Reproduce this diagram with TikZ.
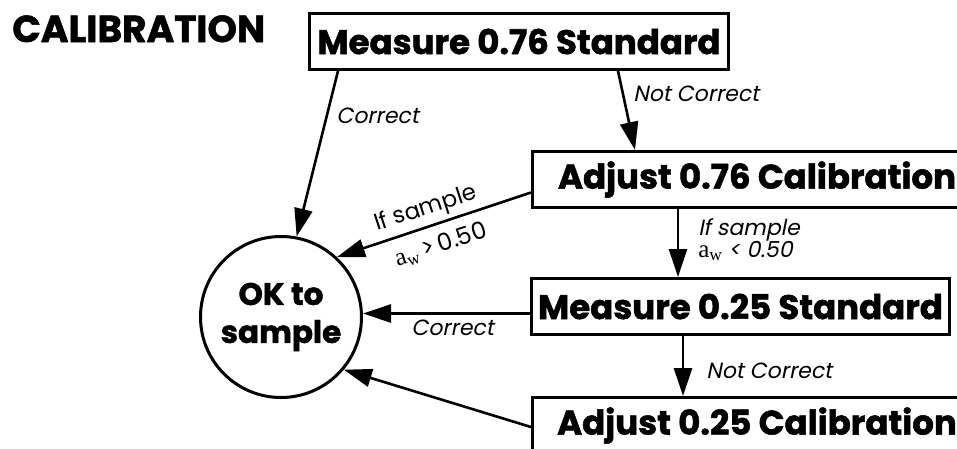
\documentclass[tikz,border=0pt]{standalone}
\usepackage{fontspec}
\setmainfont{Poppins}[BoldFeatures={FakeBold=1.5}]
\newfontfamily\slantfont[FakeSlant=0.2]{Poppins}
\newfontfamily\serifaw{Liberation Serif}
\usetikzlibrary{arrows.meta,calc}

\begin{document}
\begin{tikzpicture}[x=1pt,y=-1pt,line width=2.6pt,
    box/.style={draw,line width=3pt,anchor=north west,minimum height=56pt,
      inner sep=0pt,font=\fontsize{34}{34}\selectfont\bfseries},
    lbl/.style={font=\fontsize{22}{24}\selectfont\slantfont,inner sep=0pt},
    arr/.style={-{Triangle[length=28pt,width=18pt]}}]
  \useasboundingbox (0,0) rectangle (957,448);
  \clip (0,0) rectangle (957,448);

  \node[anchor=base west,inner sep=0pt,font=\fontsize{37.5}{37.5}\selectfont\bfseries]
    (title) at (11,42) {CALIBRATION};

  % boxes
  \node[box,minimum width=419pt] (meas1) at (308,12) {Measure 0.76 Standard};
  \node[box,minimum width=449pt] (adj1) at (531,150) {Adjust 0.76 Calibration};
  \node[box,minimum width=418pt] (meas2) at (530,277) {Measure 0.25 Standard};
  \node[box,minimum width=449pt] (adj2) at (531,396) {Adjust 0.25 Calibration};

  \node[draw,circle,line width=3pt,minimum size=161pt,align=center,
    font=\fontsize{31}{38}\selectfont\bfseries] (ok) at (281,317) {OK to\\sample};

  % arrows
  \coordinate (v1) at (678,0);
  \coordinate (v2) at (683,0);
  \coordinate (s3) at ($(meas2.west)+(0,7)$);
  \draw[arr] ($(meas1.south west)+(30,0)$) -- (ok.79);
  \draw[arr] ($(meas1.south east)+(-112,0)$) -- ($(adj1.north west)+(104,0)$);
  \draw[arr] ($(adj1.west)+(0,13)$) -- (ok.47);
  \draw[arr] (adj1.south -| v1) -- (meas2.north -| v1);
  \draw[arr] (s3) -- (s3 -| ok.east);
  \draw[arr] (meas2.south -| v2) -- (adj2.north -| v2);
  \draw[arr] ($(adj2.north west)+(0,31)$) -- (ok.-40);

  % labels
  \node[lbl,anchor=base west] (c1) at (335,123) {Correct};
  \node[lbl,anchor=base west] (nc1) at (632,101) {Not Correct};
  \node[lbl,anchor=base west,align=left] (if1) at (697,257)
    {If sample\\[-2pt]{\serifaw\fontsize{25}{24}\selectfont a\textsubscript{w}} {<}~0.50};
  \node[lbl,anchor=base west] (c2) at (410,335) {Correct};
  \node[lbl,anchor=base west] (nc2) at (705,378) {Not Correct};
  \node[font=\fontsize{23}{24}\selectfont,rotate=18,inner sep=0pt] (if2) at (426,209) {If sample};
  \node[font=\fontsize{24}{24}\selectfont,rotate=18,inner sep=0pt] (gt) at (441,245)
    {{\serifaw\fontsize{25}{24}\selectfont a\textsubscript{w}}\,>\,0.50};
\end{tikzpicture}
\end{document}
